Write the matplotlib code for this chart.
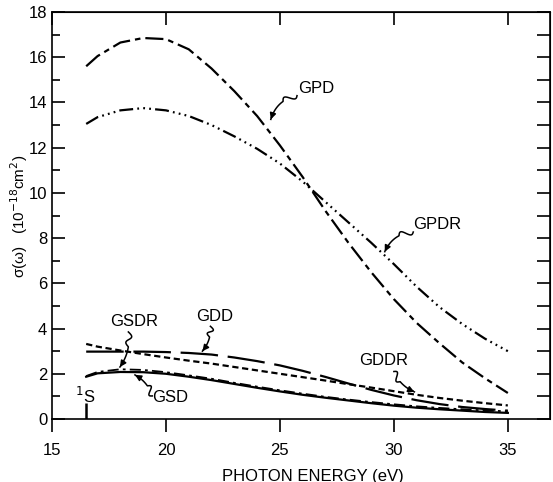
import numpy as np
import matplotlib
matplotlib.use("Agg")
import matplotlib.pyplot as plt

plt.rcParams['font.family'] = ['Liberation Sans', 'DejaVu Sans']
plt.rcParams['lines.scale_dashes'] = False

# photon energy (eV)
energy = [16.5, 17, 18, 19, 20, 21, 22, 23, 24, 25, 26, 27, 28, 29, 30, 31, 32, 33, 34, 35]

gpd  = [15.6, 16.05, 16.65, 16.85, 16.8, 16.35, 15.5, 14.5, 13.4, 12.1, 10.7, 9.2, 7.8, 6.5, 5.3, 4.25, 3.35, 2.5, 1.8, 1.15]
gpdr = [13.05, 13.35, 13.65, 13.75, 13.65, 13.4, 13.0, 12.5, 11.95, 11.3, 10.5, 9.6, 8.7, 7.8, 6.85, 5.85, 4.95, 4.2, 3.55, 3.0]
gdd  = [2.98, 2.98, 2.98, 2.98, 2.96, 2.92, 2.85, 2.72, 2.56, 2.37, 2.13, 1.86, 1.57, 1.29, 1.04, 0.83, 0.66, 0.53, 0.44, 0.37]
gddr = [3.32, 3.2, 3.03, 2.87, 2.72, 2.58, 2.45, 2.3, 2.15, 2.0, 1.85, 1.7, 1.54, 1.39, 1.23, 1.07, 0.93, 0.81, 0.7, 0.6]
gsd  = [1.87, 2.02, 2.08, 2.07, 2.0, 1.87, 1.72, 1.55, 1.38, 1.22, 1.07, 0.94, 0.82, 0.7, 0.59, 0.5, 0.43, 0.37, 0.31, 0.27]
gsdr = [1.9, 2.08, 2.2, 2.17, 2.07, 1.93, 1.78, 1.6, 1.43, 1.27, 1.12, 0.98, 0.86, 0.75, 0.65, 0.56, 0.49, 0.43, 0.38, 0.34]

threshold_1s = 16.5

x_ticks = [15, 20, 25, 30, 35]
y_ticks = [0, 2, 4, 6, 8, 10, 12, 14, 16, 18]

W, H = 553, 482
fig = plt.figure(figsize=(W / 100, H / 100), dpi=100)
ax = fig.add_axes([52 / W, 1 - 419 / H, (550 - 52) / W, (419 - 12) / H])

ax.set_xlim(15, 36.85)
ax.set_ylim(0, 18)

lw = 1.6
ax.plot(energy, gpd, color='black', lw=lw, dashes=(13, 3.6, 4, 3.6))
ax.plot(energy, gpdr, color='black', lw=lw, dashes=(10, 3, 1.3, 3, 1.3, 3, 1.3, 3))
ax.plot(energy, gdd, color='black', lw=lw, dashes=(27, 7))
ax.plot(energy, gddr, color='black', lw=lw, dashes=(4.5, 2.6))
ax.plot(energy, gsdr, color='black', lw=1.3, dashes=(8, 3, 2, 3))
ax.plot(energy, gsd, color='black', lw=lw)

# 1S threshold marker
ax.vlines(threshold_1s, 0, 0.7, color='black', lw=1.8)
ax.text(threshold_1s - 0.05, 1.0, r'$^{1}$S', ha='center', va='center', fontsize=12)

# axes styling
for s in ax.spines.values():
    s.set_linewidth(1.2)
ax.set_xticks(x_ticks)
ax.set_yticks(y_ticks)
ax.set_yticks(np.arange(1, 18, 2), minor=True)
ax.tick_params(axis='x', which='major', direction='out', length=9.5, width=1.2,
               labelsize=12, pad=8, top=False, bottom=True)
ax.tick_params(axis='y', which='major', direction='in', length=9.5, width=1.2,
               labelsize=12, pad=3.5, left=True, right=False)
ax.tick_params(axis='y', which='minor', direction='in', length=5.5, width=1.2,
               left=True, right=False)

top = ax.secondary_xaxis('top')
top.set_xticks(x_ticks)
top.tick_params(direction='in', length=9.5, width=1.2, labeltop=False)
right = ax.secondary_yaxis('right')
right.set_yticks(np.arange(0, 19, 1))
right.tick_params(direction='in', length=9.5, width=1.2, labelright=False)

fig.text(313 / W, 1 - 476 / H, 'PHOTON ENERGY (eV)', ha='center', va='center', fontsize=12)
fig.text(19 / W, 1 - 216 / H, 'σ(ω)   (10$^{-18}$cm$^{2}$)', ha='center', va='center',
         rotation=90, fontsize=11)


def squiggle(p0, p1, amp=3.0, bend=0.15, wig_frac=0.4):
    T = ax.transData
    a = T.transform(p0)
    b = T.transform(p1)
    d = b - a
    L = np.hypot(*d)
    u = d / L
    n = np.array([-u[1], u[0]])
    t = np.linspace(0, 1, 120)
    wig = np.where(t < wig_frac, amp * np.sin(2 * np.pi * t / wig_frac), 0.0)
    arc = bend * L * 4 * t * (1 - t)
    pts = a + np.outer(t, d) + np.outer(wig + arc, n)
    dp = T.inverted().transform(pts)
    ax.plot(dp[:, 0], dp[:, 1], color='black', lw=1.1)
    ax.annotate('', xy=dp[-1], xytext=dp[-10],
                arrowprops=dict(arrowstyle='-|>', color='black', lw=1.1,
                                mutation_scale=9, shrinkA=0, shrinkB=0))


labels = [
    ('GPD', (26.6, 14.6), (25.75, 14.3), (24.6, 13.25), -0.15),
    ('GPDR', (31.9, 8.6), (30.85, 8.27), (29.6, 7.4), -0.15),
    ('GDD', (22.15, 4.55), (21.95, 4.1), (21.6, 3.0), 0.1),
    ('GSDR', (18.6, 4.3), (18.35, 3.85), (17.98, 2.3), 0.1),
    ('GSD', (20.2, 0.93), (19.4, 1.02), (18.64, 1.95), -0.1),
    ('GDDR', (29.55, 2.57), (30.0, 2.1), (30.9, 1.2), -0.1),
]
for name, tpos, p0, p1, bend in labels:
    ax.text(tpos[0], tpos[1], name, ha='center', va='center', fontsize=12)
    squiggle(p0, p1, bend=bend)

fig.savefig('out.png', dpi=100)
